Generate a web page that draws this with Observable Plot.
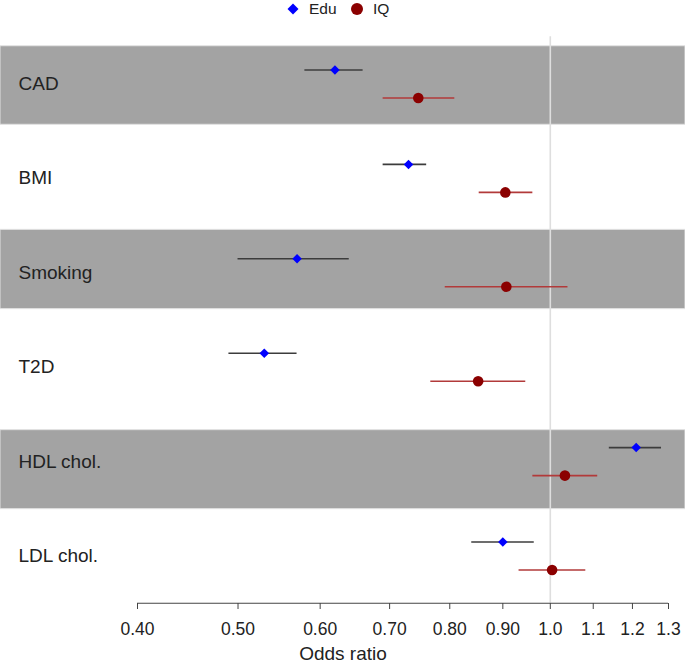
<!DOCTYPE html>
<html><head><meta charset="utf-8">
<script src="https://cdn.jsdelivr.net/npm/d3@7"></script>
<script src="https://cdn.jsdelivr.net/npm/@observablehq/plot@0.6"></script>
<style>
body{margin:0;background:#fff;font-family:"Liberation Sans",Arial,Helvetica,sans-serif;}
#legend{position:relative;height:20px;width:685px;font-size:15.5px;color:#222;}
#legend .item{position:absolute;top:0;height:18px;line-height:18px;white-space:nowrap;}
#legend svg{position:absolute;}
</style></head><body>
<div id="legend"></div>
<div id="chart"></div>
<script>
// ---- data ----
const traits = ["CAD", "BMI", "Smoking", "T2D", "HDL chol.", "LDL chol."];
const eduOR = [0.62, 0.73, 0.57, 0.53, 1.21, 0.90];
const eduLo = [0.58, 0.69, 0.50, 0.49, 1.14, 0.84];
const eduHi = [0.66, 0.76, 0.64, 0.57, 1.28, 0.965];
const iqOR = [0.746, 0.905, 0.907, 0.852, 1.033, 1.004];
const iqLo = [0.69, 0.854, 0.792, 0.767, 0.962, 0.933];
const iqHi = [0.809, 0.962, 1.04, 0.947, 1.111, 1.082];
const shadedTraits = ["CAD", "Smoking", "HDL chol."];
const seriesNames = ["Edu", "IQ"];
const tickValues = [0.4, 0.5, 0.6, 0.7, 0.8, 0.9, 1.0, 1.1, 1.2, 1.3];
const tickLabels = ["0.40", "0.50", "0.60", "0.70", "0.80", "0.90", "1.0", "1.1", "1.2", "1.3"];
const axisTitle = "Odds ratio";

// ---- layout/styling ----
const bandExtent = {"CAD": [-0.4, 0.432], "Smoking": [-0.455, 0.385], "HDL chol.": [-0.333, 0.504]};
const colors = {Edu: {pt: "#0000ff", ci: "#3c3c3c", sym: "diamond2", r: 4.3, dy: -14},
                IQ: {pt: "#8b0000", ci: "#b23a3a", sym: "circle", r: 5.3, dy: 14}};

const rows = traits.map((t, i) => ({trait: t, i}));
const est = [];
traits.forEach((t, i) => {
  est.push({trait: t, i, series: "Edu", or: eduOR[i], lo: eduLo[i], hi: eduHi[i]});
  est.push({trait: t, i, series: "IQ", or: iqOR[i], lo: iqLo[i], hi: iqHi[i]});
});
const bands = shadedTraits.map(t => {
  const i = traits.indexOf(t);
  return {trait: t, y1: i + bandExtent[t][0], y2: i + bandExtent[t][1]};
});

const marks = [
  Plot.rect(bands, {y1: "y2", y2: "y1", fill: "#a3a3a3", stroke: "#e2e2e2", strokeWidth: 1}),
  Plot.ruleX([1], {y1: -0.5, y2: traits.length - 0.5, stroke: "#dedede", strokeWidth: 1.6}),
  Plot.ruleY([traits.length - 0.5], {x1: tickValues[0], x2: tickValues[tickValues.length - 1], stroke: "#444", strokeWidth: 1.1}),
  Plot.axisX({ticks: tickValues, tickFormat: (d) => tickLabels[tickValues.indexOf(d)], tickSize: 6, tickPadding: 13, fontSize: 17.5, stroke: "#444", fill: "#222", label: null}),
  Plot.text([axisTitle], {frameAnchor: "bottom", dy: 50, lineAnchor: "middle", fontSize: 19, fill: "#222"}),
  Plot.text(rows, {y: "i", text: "trait", frameAnchor: "left", dx: 18, textAnchor: "start", fontSize: 19, fill: "#222"})
];
for (const s of seriesNames) {
  const c = colors[s];
  const d = est.filter(e => e.series === s);
  marks.push(Plot.ruleY(d, {y: "i", x1: "lo", x2: "hi", dy: c.dy, stroke: c.ci, strokeWidth: 1.6}));
  marks.push(Plot.dot(d, {y: "i", x: "or", dy: c.dy, symbol: c.sym, r: c.r, fill: c.pt, stroke: "none"}));
}

const chart = Plot.plot({
  width: 685,
  height: 643,
  marginLeft: 0, marginRight: 0, marginTop: 0, marginBottom: 60,
  style: {fontFamily: '"Liberation Sans", Arial, Helvetica, sans-serif', background: "#fff"},
  x: {type: "log", domain: [tickValues[0], tickValues[tickValues.length - 1]], range: [137, 668], axis: null},
  y: {type: "linear", domain: [0, traits.length - 1], range: [63.5, 535.5], axis: null},
  marks
});
document.getElementById("chart").appendChild(chart);

// ---- legend ----
const leg = document.getElementById("legend");
const legendPos = {Edu: {sym: 293, text: 309}, IQ: {sym: 357, text: 373}};
for (const s of seriesNames) {
  const c = colors[s];
  const p = legendPos[s];
  const ns = "http://www.w3.org/2000/svg";
  const svg = document.createElementNS(ns, "svg");
  svg.setAttribute("width", 14); svg.setAttribute("height", 14);
  svg.style.left = (p.sym - 7) + "px"; svg.style.top = "2px";
  let shape;
  if (c.sym === "circle") {
    shape = document.createElementNS(ns, "circle");
    shape.setAttribute("cx", 7); shape.setAttribute("cy", 7); shape.setAttribute("r", 6);
  } else {
    shape = document.createElementNS(ns, "path");
    shape.setAttribute("d", "M7,1.5L12.5,7L7,12.5L1.5,7Z");
  }
  shape.setAttribute("fill", c.pt);
  svg.appendChild(shape);
  leg.appendChild(svg);
  const span = document.createElement("span");
  span.className = "item"; span.textContent = s;
  span.style.left = p.text + "px";
  leg.appendChild(span);
}
</script>
</body></html>
